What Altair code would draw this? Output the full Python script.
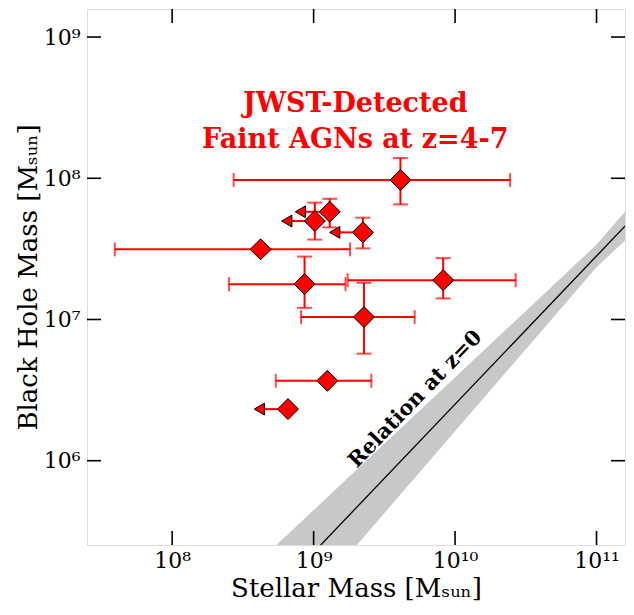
import altair as alt
import pandas as pd

# ---------------- data ----------------
mstar = [4.11e9, 1.30e9, 1.02e9, 2.23e9, 4.22e8, 8.63e8, 8.24e9, 2.27e9, 1.25e9, 6.59e8]
mbh = [9.73e7, 5.79e7, 4.98e7, 4.14e7, 3.14e7, 1.78e7, 1.90e7, 1.04e7, 3.68e6, 2.32e6]
mstar_lo = [2.72e8, None, None, None, 3.93e7, 2.52e8, 1.74e9, 8.15e8, 5.40e8, None]
mstar_hi = [2.45e10, None, None, None, 1.81e9, 1.68e9, 2.68e10, 5.18e9, 2.56e9, None]
mbh_lo = [6.53e7, 4.49e7, 3.68e7, 3.19e7, None, 1.21e7, 1.41e7, 5.73e6, None, None]
mbh_hi = [1.39e8, 7.16e7, 6.72e7, 5.26e7, None, 2.79e7, 2.72e7, 1.82e7, None, None]
mstar_ulim = [None, 8.07e8, 6.46e8, 1.41e9, None, None, None, None, None, 4.13e8]

# local relation (z=0) and its band
rel_mstar = [1.0e9, 2.0e11]
rel_mbh = [2.24e5, 5.83e7]
band_mstar = [5.0e8, 1.0e11, 2.0e11]
band_lo = [5.0e4, 2.34e7, 4.5e7]
band_hi = [2.33e5, 3.39e7, 7.57e7]

# axes
xtick_vals = [1e8, 1e9, 1e10, 1e11]
xtick_labels = ["10⁸", "10⁹", "10¹⁰", "10¹¹"]
ytick_vals = [1e6, 1e7, 1e8, 1e9]
ytick_labels = ["10⁶", "10⁷", "10⁸", "10⁹"]
x_domain = [2.5e7, 1.59e11]
y_domain = [2.53e5, 1.58e9]
x_title = "Stellar Mass [Mₛᵤₙ]"
y_title = "Black Hole Mass [Mₛᵤₙ]"

ann_text = ["JWST-Detected", "Faint AGNs at z=4-7"]
ann_x = [1.97e9, 1.97e9]
ann_y = [3.36e8, 1.86e8]
rel_text = ["Relation at z=0"]
rel_text_x = [5.25e9]
rel_text_y = [2.72e6]

# ---------------- tables ----------------
pts = pd.DataFrame(dict(mstar=mstar, mbh=mbh, mstar_lo=mstar_lo, mstar_hi=mstar_hi,
                        mbh_lo=mbh_lo, mbh_hi=mbh_hi, mstar_ulim=mstar_ulim))
xerr = pts.dropna(subset=["mstar_lo"])
yerr = pts.dropna(subset=["mbh_lo"])
ulim = pts.dropna(subset=["mstar_ulim"])
xcaps = pd.DataFrame(dict(xc=list(xerr.mstar_lo) + list(xerr.mstar_hi),
                          yc=list(xerr.mbh) * 2))
ycaps = pd.DataFrame(dict(xc=list(yerr.mstar) * 2,
                          yc=list(yerr.mbh_lo) + list(yerr.mbh_hi)))
rel = pd.DataFrame(dict(mstar=rel_mstar, mbh=rel_mbh))
band = pd.DataFrame(dict(mstar=band_mstar, lo=band_lo, hi=band_hi))
xt = pd.DataFrame(dict(v=xtick_vals))
yt = pd.DataFrame(dict(v=ytick_vals))
ann = pd.DataFrame(dict(x=ann_x, y=ann_y, t=ann_text))
reltxt = pd.DataFrame(dict(x=rel_text_x, y=rel_text_y, t=rel_text))

W, H = 538, 536
FONT = "DejaVu Serif"
RED = "#ff0000"
TICK = 14


def lab_expr(vals, labels):
    import math
    parts = [f"round(log(datum.value)/LN10) == {round(math.log10(v))} ? '{l}'"
             for v, l in zip(vals, labels)]
    return " : ".join(parts) + " : ''"


xscale = alt.Scale(type="log", domain=x_domain, nice=False)
yscale = alt.Scale(type="log", domain=y_domain, nice=False)
xaxis = alt.Axis(values=xtick_vals, labelExpr=lab_expr(xtick_vals, xtick_labels),
                 title=x_title, ticks=False, domain=False, grid=False,
                 labelFont=FONT, labelFontSize=22, labelColor="black", labelPadding=5,
                 labelFlush=False,
                 titleFont=FONT, titleFontSize=26, titleFontWeight="normal",
                 titleColor="black", titlePadding=4)
yaxis = alt.Axis(values=ytick_vals, labelExpr=lab_expr(ytick_vals, ytick_labels),
                 title=y_title, ticks=False, domain=False, grid=False,
                 labelFont=FONT, labelFontSize=22, labelColor="black", labelPadding=7,
                 labelFlush=False,
                 titleFont=FONT, titleFontSize=26, titleFontWeight="normal",
                 titleColor="black", titlePadding=2)


def X(f):
    return alt.X(f, type="quantitative", scale=xscale, axis=xaxis)


def Y(f):
    return alt.Y(f, type="quantitative", scale=yscale, axis=yaxis)


band_l = alt.Chart(band).mark_area(color="#c8c8c8", clip=True).encode(
    x=X("mstar"), y=Y("lo"), y2="hi")
rel_l = alt.Chart(rel).mark_line(color="black", strokeWidth=1.3, clip=True).encode(
    x=X("mstar"), y=Y("mbh"))

xerr_l = alt.Chart(xerr).mark_rule(color=RED, strokeWidth=2).encode(
    x=X("mstar_lo"), x2="mstar_hi", y=Y("mbh"))
xcap_l = alt.Chart(xcaps).mark_tick(color=RED, orient="vertical", size=14, thickness=2).encode(
    x=X("xc"), y=Y("yc"))
yerr_l = alt.Chart(yerr).mark_rule(color=RED, strokeWidth=2).encode(
    x=X("mstar"), y=Y("mbh_lo"), y2="mbh_hi")
ycap_l = alt.Chart(ycaps).mark_tick(color=RED, orient="horizontal", size=15, thickness=2).encode(
    x=X("xc"), y=Y("yc"))
ulim_rule = alt.Chart(ulim).mark_rule(color=RED, strokeWidth=2).encode(
    x=X("mstar_ulim"), x2="mstar", y=Y("mbh"))
ulim_tri = alt.Chart(ulim).mark_point(shape="triangle-left", size=140, filled=True,
                                      fill=RED, stroke="black", strokeWidth=1,
                                      opacity=1).encode(
    x=X("mstar_ulim"), y=Y("mbh"))
pts_l = alt.Chart(pts).mark_point(shape="diamond", size=440, filled=True, fill=RED,
                                  stroke="black", strokeWidth=1, opacity=1).encode(
    x=X("mstar"), y=Y("mbh"))

tick_b = alt.Chart(xt).mark_rule(color="black", strokeWidth=1.6).encode(
    x=X("v"), y=alt.value(H), y2=alt.value(H - TICK))
tick_t = alt.Chart(xt).mark_rule(color="black", strokeWidth=1.6).encode(
    x=X("v"), y=alt.value(0), y2=alt.value(TICK))
tick_l = alt.Chart(yt).mark_rule(color="black", strokeWidth=1.6).encode(
    y=Y("v"), x=alt.value(0), x2=alt.value(TICK))
tick_r = alt.Chart(yt).mark_rule(color="black", strokeWidth=1.6).encode(
    y=Y("v"), x=alt.value(W), x2=alt.value(W - TICK))

ann_l = alt.Chart(ann).mark_text(font=FONT, fontSize=27, fontWeight="bold", color=RED,
                                 align="center", baseline="middle").encode(
    x=X("x"), y=Y("y"), text="t:N")
rel_txt_l = alt.Chart(reltxt).mark_text(font=FONT, fontSize=21, fontWeight="bold",
                                        color="black", angle=314, align="center",
                                        baseline="middle").encode(
    x=X("x"), y=Y("y"), text="t:N")

chart = alt.layer(
    band_l, rel_l, xerr_l, xcap_l, yerr_l, ycap_l, ulim_rule, ulim_tri, pts_l,
    tick_b, tick_t, tick_l, tick_r, ann_l, rel_txt_l
).properties(
    width=W, height=H,
    autosize=alt.AutoSizeParams(type="none"),
    padding={"left": 79, "top": 1, "right": 1, "bottom": 70},
).configure_view(stroke="black", strokeWidth=2).configure(background="white")

chart.save("out.html", embed_options={"renderer": "svg", "actions": False})
